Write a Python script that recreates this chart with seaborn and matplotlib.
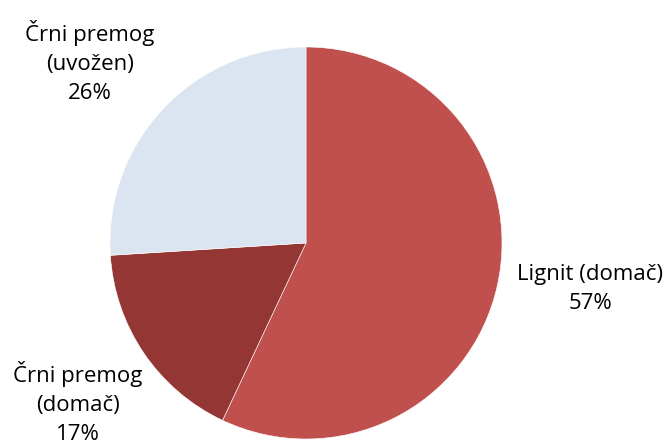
import matplotlib
matplotlib.use("Agg")
import matplotlib.pyplot as plt
import seaborn as sns

sns.set_theme(style="white")
plt.rcParams["font.family"] = ["Open Sans", "DejaVu Sans"]

# Coal sources, shares in percent
labels = ["Lignit (domač)", "Črni premog\n(domač)", "Črni premog\n(uvožen)"]
shares = [57, 17, 26]
colors = sns.color_palette(["#C0504D", "#943634", "#DBE5F1"])

# Label anchor positions (centre of text block), in pie radius units
label_x = [1.449, -1.163, -1.102]
label_y = [-0.235, -0.817, 0.923]

fig = plt.figure(figsize=(6.71, 4.45), dpi=100)
ax = fig.add_axes([110 / 671, 6 / 445, 392 / 671, 392 / 445])

ax.pie(shares, colors=colors, startangle=90, counterclock=False, radius=1,
       wedgeprops=dict(linewidth=0.4, edgecolor="white"))
ax.set_xlim(-1, 1)
ax.set_ylim(-1, 1)
ax.set_aspect("equal")
ax.axis("off")

for lab, v, x, y in zip(labels, shares, label_x, label_y):
    ax.text(x, y, f"{lab}\n{v}%", ha="center", va="center", fontsize=16,
            linespacing=1.5, color="black", clip_on=False)

fig.savefig("out.png", dpi=100)
